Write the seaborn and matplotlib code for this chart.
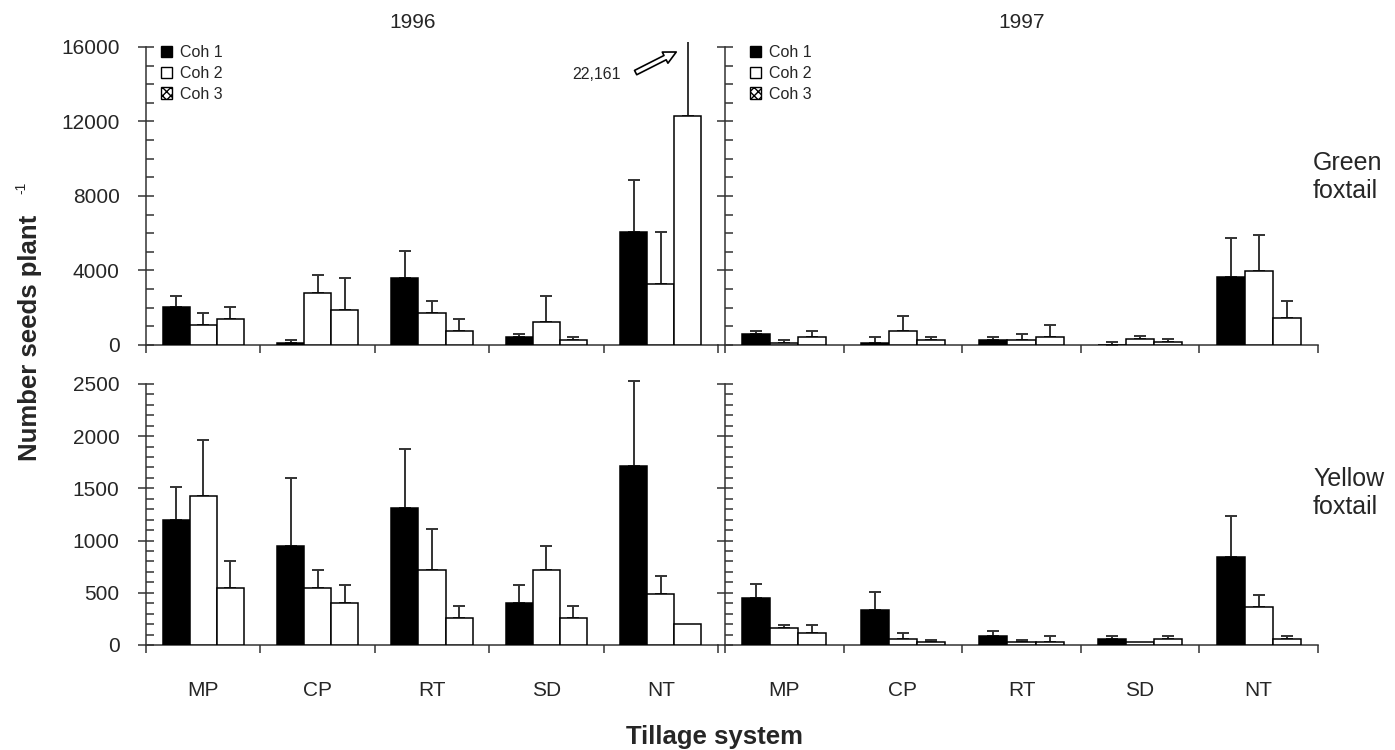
import numpy as np
import pandas as pd
import seaborn as sns
import matplotlib.pyplot as plt
from matplotlib.patches import Patch
from matplotlib.ticker import MultipleLocator

sns.set_style("ticks")
plt.rcParams['font.family'] = ['Liberation Sans', 'DejaVu Sans']

## Data (means and upper standard errors)
tillage = ["MP", "CP", "RT", "SD", "NT"]
cohorts = ["Coh 1", "Coh 2", "Coh 3"]

# Green foxtail 1996
g96_c1 = [2040, 110, 3620, 450, 6050]
g96_c2 = [1080, 2810, 1710, 1225, 3300]
g96_c3 = [1405, 1860, 760, 270, 12270]
g96_e1 = [590, 160, 1440, 130, 2830]
g96_e2 = [630, 960, 630, 1425, 2750]
g96_e3 = [635, 1740, 630, 160, 9891]

# Green foxtail 1997
g97_c1 = [595, 110, 270, 10, 3675]
g97_c2 = [110, 740, 270, 306, 3965]
g97_c3 = [450, 270, 450, 144, 1425]
g97_e1 = [145, 340, 180, 134, 2090]
g97_e2 = [140, 810, 325, 164, 1945]
g97_e3 = [290, 180, 630, 162, 955]

# Yellow foxtail 1996
y96_c1 = [1200, 945, 1315, 405, 1710]
y96_c2 = [1425, 550, 715, 715, 490]
y96_c3 = [550, 405, 260, 260, 200]
y96_e1 = [310, 650, 565, 165, 815]
y96_e2 = [540, 165, 395, 230, 170]
y96_e3 = [250, 165, 115, 115, 0]

# Yellow foxtail 1997
y97_c1 = [450, 333, 86, 54, 846]
y97_c2 = [165, 54, 25, 25, 364]
y97_c3 = [111, 25, 25, 54, 54]
y97_e1 = [136, 171, 50, 32, 393]
y97_e2 = [25, 57, 26, 0, 114]
y97_e3 = [79, 26, 61, 32, 32]


def make_df(means, errs):
    rows = []
    for coh, m, e in zip(cohorts, means, errs):
        for t, mv, ev in zip(tillage, m, e):
            rows.append({"tillage": t, "cohort": coh, "mean": mv, "err": ev})
    return pd.DataFrame(rows)


panels = {
    ("green", 1996): make_df([g96_c1, g96_c2, g96_c3], [g96_e1, g96_e2, g96_e3]),
    ("green", 1997): make_df([g97_c1, g97_c2, g97_c3], [g97_e1, g97_e2, g97_e3]),
    ("yellow", 1996): make_df([y96_c1, y96_c2, y96_c3], [y96_e1, y96_e2, y96_e3]),
    ("yellow", 1997): make_df([y97_c1, y97_c2, y97_c3], [y97_e1, y97_e2, y97_e3]),
}

pal = {"Coh 1": "black", "Coh 2": "white", "Coh 3": "white"}
AX_COL = "#333333"

W, H = 1395, 750
fig = plt.figure(figsize=(W / 100, H / 100), dpi=100)


def add_ax(x0, x1, ytop, ybot):
    return fig.add_axes([x0 / W, 1 - ybot / H, (x1 - x0) / W, (ybot - ytop) / H])


# pixel layout
xcols = {1996: (146, 718), 1997: (725, 1318)}
rows = {"green": (42.3, 345, 16250, 16000, 4000, 1000),
        "yellow": (377.7, 645, 2560, 2500, 500, 100)}

axes = {}
for species, (ytop, ybot, ylim, ymaxtick, major, minor) in rows.items():
    for year, (x0, x1) in xcols.items():
        ax = add_ax(x0, x1, ytop, ybot)
        df = panels[(species, year)]
        sns.barplot(data=df, x="tillage", y="mean", hue="cohort", order=tillage,
                    hue_order=cohorts, palette=pal, edgecolor="black", linewidth=1.1,
                    width=0.71, saturation=1, legend=False, ax=ax, zorder=3)
        # upper error bars only
        for cont, coh in zip(ax.containers, cohorts):
            sub = df[df.cohort == coh].set_index("tillage").loc[tillage]
            xs = np.array([b.get_x() + b.get_width() / 2 for b in cont])
            hs = np.array([b.get_height() for b in cont])
            es = sub["err"].values.astype(float)
            m = es > 0
            ax.errorbar(xs[m], hs[m], yerr=[np.zeros(m.sum()), es[m]], fmt="none",
                        ecolor=AX_COL, elinewidth=1.4, capsize=4, capthick=1.4, zorder=2)

        ax.set_xlim(-0.5, 4.5)
        ax.set_ylim(0, ylim)
        for s in ["top", "right"]:
            ax.spines[s].set_visible(False)
        ax.spines["left"].set_bounds(0, ymaxtick)
        for s in ["left", "bottom"]:
            ax.spines[s].set_color(AX_COL)
            ax.spines[s].set_linewidth(1.1)
        ax.set_yticks(np.arange(0, ymaxtick + 1, major))
        ax.yaxis.set_minor_locator(MultipleLocator(minor))
        ax.tick_params(axis="y", which="major", direction="inout", length=12, width=1.1,
                       color=AX_COL, labelsize=15, pad=13)
        ax.tick_params(axis="y", which="minor", direction="in", length=6, width=1.1, color=AX_COL)
        ax.set_xticks(range(5))
        ax.set_xticks(np.arange(-0.5, 5), minor=True)
        ax.tick_params(axis="x", which="major", length=0, pad=26, labelsize=15)
        ax.tick_params(axis="x", which="minor", direction="out", length=6, width=1.1, color=AX_COL)
        ax.set_xlabel("")
        ax.set_ylabel("")
        ax.set_facecolor("none")
        if species == "green":
            ax.tick_params(axis="x", labelbottom=False)
        if year == 1997:
            ax.tick_params(axis="y", labelleft=False)
        axes[(species, year)] = ax

# legends
handles = [Patch(facecolor="black", edgecolor="black", label="Coh 1"),
           Patch(facecolor="white", edgecolor="black", label="Coh 2"),
           Patch(facecolor="white", edgecolor="black", hatch="xxxx", label="Coh 3")]
for year, anchor in [(1996, (0.026, 0.99)), (1997, (0.042, 0.99))]:
    axes[("green", year)].legend(handles=handles, loc="upper left", bbox_to_anchor=anchor,
                                 frameon=False, fontsize=11.5, handlelength=0.7,
                                 handleheight=0.7, handletextpad=0.5, labelspacing=0.35,
                                 borderpad=0, borderaxespad=0)

# annotation for the clipped error bar
ax = axes[("green", 1996)]
ax.text(0.788, 0.892, "22,161", transform=ax.transAxes, ha="center", va="center",
        fontsize=11.5)
ax.annotate("", xy=(0.927, 0.968), xycoords="axes fraction",
            xytext=(0.856, 0.9), textcoords="axes fraction",
            arrowprops=dict(arrowstyle="simple,head_length=0.9,head_width=0.9,tail_width=0.35",
                            fc="white", ec="black", lw=1.2, shrinkA=0, shrinkB=0))

# titles and labels
fig.text(413 / W, 1 - 22 / H, "1996", ha="center", va="center", fontsize=15)
fig.text(1022 / W, 1 - 22 / H, "1997", ha="center", va="center", fontsize=15)
fig.text(1313 / W, 1 - 177 / H, "Green\nfoxtail", ha="left", va="center", fontsize=18,
         linespacing=1.25)
fig.text(1313 / W, 1 - 493 / H, "Yellow\nfoxtail", ha="left", va="center", fontsize=18,
         linespacing=1.25)
fig.text(30 / W, 1 - 338 / H, "Number seeds plant", rotation=90, ha="center", va="center",
         fontsize=18.5, fontweight="bold")
fig.text(21 / W, 1 - 188 / H, "-1", rotation=90, ha="center", va="center", fontsize=10)
fig.text(714 / W, 1 - 737 / H, "Tillage system", ha="center", va="center", fontsize=18.5,
         fontweight="bold")

fig.savefig("out.png", dpi=100)
